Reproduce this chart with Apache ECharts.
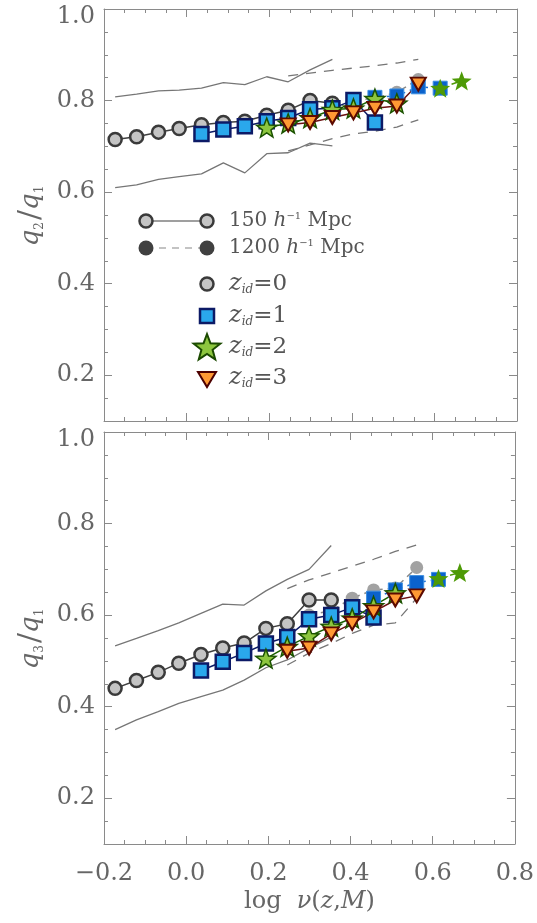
<!DOCTYPE html>
<html><head><meta charset="utf-8">
<script src="https://cdn.jsdelivr.net/npm/echarts@6/dist/echarts.min.js"></script>
<style>html,body{margin:0;padding:0;background:#fff}#c{width:537px;height:923px}</style>
</head><body><div id="c"></div>
<script>
const N = null;
// bins of log nu(z,M)
const logNu = [-0.173,-0.121,-0.068,-0.018,0.036,0.089,0.141,0.194,0.246,0.299,0.353,0.404,0.456,0.509,0.561,0.614,0.666];
// y tick labels
const yTicks = [0.2,0.4,0.6,0.8,1.0];

// ---- top panel q2/q1 ----
const q2_z0_150  = [0.715,0.721,0.731,0.739,0.747,0.752,0.755,0.768,0.779,0.800,0.794,N,N,N,N,N,N];
const q2_z0_1200 = [N,N,N,N,N,N,N,N,N,N,N,0.800,0.805,0.818,0.846,N,N];
const q2_z1_150  = [N,N,N,N,0.727,0.737,0.744,0.755,0.762,0.781,0.783,0.801,0.752,N,N,N,N];
const q2_z1_1200 = [N,N,N,N,N,N,N,N,N,N,N,N,0.807,0.810,0.830,0.827,N];
const q2_z2_150  = [N,N,N,N,N,N,N,0.741,0.750,0.762,0.780,0.783,0.804,0.794,N,N,N];
const q2_z2_1200 = [N,N,N,N,N,N,N,N,N,N,N,N,N,N,N,0.827,0.843];
const q2_z3_150  = [N,N,N,N,N,N,N,N,0.747,0.752,0.763,0.773,0.783,0.788,0.836,N,N];
const q2_hi150   = [0.808,0.814,0.821,0.823,0.827,0.839,0.835,0.852,0.841,0.867,0.890,N,N,N,N,N,N];
const q2_lo150   = [0.610,0.616,0.628,0.634,0.640,0.664,0.642,0.684,0.686,0.707,0.701,N,N,N,N,N,N];
const q2_hi1200  = [N,N,N,N,N,N,N,N,0.854,0.860,0.866,0.871,0.876,0.882,0.890,N,N];
const q2_lo1200  = [N,N,N,N,N,N,N,N,0.690,0.703,0.717,0.727,0.733,0.742,0.758,N,N];

// ---- bottom panel q3/q1 ----
const q3_z0_150  = [0.440,0.457,0.475,0.495,0.514,0.528,0.539,0.571,0.581,0.633,0.633,N,N,N,N,N,N];
const q3_z0_1200 = [N,N,N,N,N,N,N,N,N,0.600,0.610,0.637,0.655,0.659,0.704,N,N];
const q3_z1_150  = [N,N,N,N,0.479,0.498,0.517,0.538,0.552,0.591,0.600,0.617,0.595,N,N,N,N];
const q3_z1_1200 = [N,N,N,N,N,N,N,N,N,N,N,N,0.637,0.655,0.671,0.678,N];
const q3_z2_150  = [N,N,N,N,N,N,N,0.505,0.531,0.554,0.575,0.593,0.620,0.648,N,N,N];
const q3_z2_1200 = [N,N,N,N,N,N,N,N,N,N,N,N,N,N,N,0.680,0.693];
const q3_z3_150  = [N,N,N,N,N,N,N,N,0.521,0.528,0.559,0.582,0.607,0.633,0.642,N,N];
const q3_hi150   = [0.533,0.549,0.566,0.583,0.604,0.624,0.622,0.653,0.678,0.700,0.752,N,N,N,N,N,N];
const q3_lo150   = [0.350,0.371,0.389,0.407,0.422,0.436,0.458,0.485,0.502,0.528,0.552,N,N,N,N,N,N];
const q3_hi1200  = [N,N,N,N,N,N,N,N,0.658,0.677,0.692,0.707,0.722,0.739,0.753,N,N];
const q3_lo1200  = [N,N,N,N,N,N,N,N,0.491,0.517,0.538,0.560,0.578,0.583,0.637,N,N];

const FONT = "'DejaVu Serif', serif";
const TXT = '#666';
const AX = '#8a8a8a';

function pts(arr){ const o=[]; arr.forEach((v,i)=>{ if(v!=null) o.push([logNu[i], v]); }); return o; }
function starPts(cx,cy,R,ri){ const p=[]; for(let i=0;i<10;i++){ const r=i%2?R*ri:R; const a=-Math.PI/2+i*Math.PI/5; p.push([cx+r*Math.cos(a), cy+r*Math.sin(a)]); } return p; }
const starPath = 'path://M' + starPts(0,0,10,0.42).map(p=>p[0].toFixed(2)+','+p[1].toFixed(2)).join(' L') + ' Z';

const STY = {
  z0:  {symbol:'circle', size:13, fill:'#c4c4c4', border:'#3a3a3a', bw:2.5, line:'#404040'},
  z1:  {symbol:'rect', size:14, fill:'#2aa8ec', border:'#0c1a66', bw:2.5, line:'#0c1a66'},
  z2:  {symbol:starPath, size:20, fill:'#8dc63f', border:'#1b5200', bw:1.5, line:'#1b6000'},
  z3:  {symbol:'triangle', rotate:180, size:[15,13], fill:'#ff9933', border:'#5c0a00', bw:2, line:'#6b1010'},
  z0b: {symbol:'circle', size:13, fill:'#a2a2a2', border:'#a2a2a2', bw:0, line:'#8a8a8a'},
  z1b: {symbol:'rect', size:14, fill:'#0b62cc', border:'#3d8fe0', bw:1, line:'#1d6fd6'},
  z2b: {symbol:starPath, size:20, fill:'#4e9a06', border:'#4e9a06', bw:0, line:'#4e9a06'}
};

function markSeries(g, arr, s, dashed){
  return {
    type:'line', xAxisIndex:g*2, yAxisIndex:g*4, data:pts(arr),
    symbol:s.symbol, symbolSize:s.size, symbolRotate:s.rotate||0, symbolKeepAspect:true,
    showSymbol:true, silent:true,
    itemStyle:{color:s.fill, borderColor:s.border, borderWidth:s.bw, opacity:1},
    lineStyle:{color:s.line, width:1.5, type:dashed?[7,5]:'solid'}
  };
}
function envSeries(g, arr, dashed){
  return {
    type:'line', xAxisIndex:g*2, yAxisIndex:g*4, data:pts(arr),
    symbol:'none', silent:true,
    lineStyle:{color:'#767676', width:1.3, type:dashed?[10,8]:'solid'}
  };
}

function X(g, pos, labels){
  const a = {
    type:'value', gridIndex:g, position:pos, min:-0.2, max:0.8, interval:0.2,
    axisLine:{show:true, onZero:false, lineStyle:{color:AX, width:1}},
    axisTick:{show:true, inside:true, length:8, lineStyle:{color:AX}},
    minorTick:{show:true, splitNumber:4, length:4, lineStyle:{color:AX}},
    splitLine:{show:false}, minorSplitLine:{show:false},
    axisLabel:{show:labels, margin:18, color:TXT, fontSize:24, fontFamily:FONT,
      formatter:v=>{ if(Math.abs(v)<1e-9) v=0; return v.toFixed(1).replace('-','\u2212'); }}
  };
  if(labels){
    a.name = '{n|log  }{i|\u03bd}{n|(}{i|z}{n|,}{i|M}{n|)}';
    a.nameLocation='middle'; a.nameGap=46;
    a.nameTextStyle = {color:TXT, fontFamily:FONT, fontSize:24, rich:{
      n:{fontSize:24, fontFamily:FONT, color:TXT},
      i:{fontSize:24, fontFamily:FONT, color:TXT, fontStyle:'italic'}}};
  }
  return a;
}
function yLab(v){
  const k=v/0.2; if(Math.abs(k-Math.round(k))>1e-6) return '';
  const s=v.toFixed(1); return v>0.99 ? '{t|'+s+'}' : s;
}
function Y(g, pos, major, labels, sub){
  const a = {
    type:'value', gridIndex:g, position:pos, min:0.1, max:1.0, interval:0.05, offset:0,
    axisLine:{show:!major, onZero:false, lineStyle:{color:AX, width:1}},
    axisTick:{show:true, inside:true, length:major?8:4, lineStyle:{color:AX}},
    splitLine:{show:false},
    axisLabel:{show:labels, margin:9, color:TXT, fontSize:24, fontFamily:FONT, formatter:yLab,
      rich:{t:{padding:[16,0,0,0], fontSize:24, fontFamily:FONT, color:TXT}}}
  };
  if(major) a.axisTick.customValues = yTicks;
  if(labels){
    a.name = '{q|q}{s|'+sub+'}{sl|/}{q|q}{s|1}';
    a.nameLocation='middle'; a.nameRotate=90; a.nameGap=45;
    a.nameTextStyle = {color:TXT, fontFamily:FONT, fontSize:26, rich:{
      q:{fontSize:26, fontFamily:FONT, color:TXT, fontStyle:'italic'},
      s:{fontSize:12, fontFamily:FONT, color:TXT, verticalAlign:'bottom', padding:[0,2,0,0]},
      sl:{fontSize:30, fontFamily:FONT, color:TXT}}};
  }
  return a;
}

const series = [];
[[0,[q2_hi150,q2_lo150],[q2_hi1200,q2_lo1200],[q2_z0_1200,q2_z1_1200,q2_z2_1200],[q2_z0_150,q2_z1_150,q2_z2_150,q2_z3_150]],
 [1,[q3_hi150,q3_lo150],[q3_hi1200,q3_lo1200],[q3_z0_1200,q3_z1_1200,q3_z2_1200],[q3_z0_150,q3_z1_150,q3_z2_150,q3_z3_150]]]
.forEach(([g,e150,e1200,b,s])=>{
  e150.forEach(a=>series.push(envSeries(g,a,false)));
  e1200.forEach(a=>series.push(envSeries(g,a,true)));
  series.push(markSeries(g,b[0],STY.z0b,true));
  series.push(markSeries(g,b[1],STY.z1b,true));
  series.push(markSeries(g,b[2],STY.z2b,true));
  series.push(markSeries(g,s[0],STY.z0,false));
  series.push(markSeries(g,s[1],STY.z1,false));
  series.push(markSeries(g,s[2],STY.z2,false));
  series.push(markSeries(g,s[3],STY.z3,false));
});

// legend drawn as graphic
const LT = {fill:'#555', fontFamily:FONT};
const zRich = {
  z:{fontSize:24, fontFamily:FONT, fontStyle:'italic', fill:'#555'},
  d:{fontSize:12, fontFamily:FONT, fontStyle:'italic', fill:'#555', verticalAlign:'bottom'},
  n:{fontSize:23, fontFamily:FONT, fill:'#555'}
};
const hRich = {
  n:{fontSize:20, fontFamily:FONT, fill:'#555'},
  h:{fontSize:20, fontFamily:FONT, fontStyle:'italic', fill:'#555'},
  s:{fontSize:10, fontFamily:FONT, fill:'#555', verticalAlign:'top'}
};
const graphic = [
  {type:'line', shape:{x1:146,y1:221,x2:207,y2:221}, style:{stroke:'#404040', lineWidth:1.2}},
  {type:'circle', shape:{cx:146,cy:221,r:6.5}, style:{fill:'#c4c4c4', stroke:'#3a3a3a', lineWidth:2.5}},
  {type:'circle', shape:{cx:207,cy:221,r:6.5}, style:{fill:'#c4c4c4', stroke:'#3a3a3a', lineWidth:2.5}},
  {type:'text', x:229, y:221, style:{text:'{n|150 }{h|h}{s|\u22121}{n| Mpc}', rich:hRich, verticalAlign:'middle', align:'left', ...LT}},
  {type:'line', shape:{x1:146,y1:248,x2:207,y2:248}, style:{stroke:'#888', lineWidth:1.2, lineDash:[7,6]}},
  {type:'circle', shape:{cx:146,cy:248,r:7.5}, style:{fill:'#404040'}},
  {type:'circle', shape:{cx:207,cy:248,r:7.5}, style:{fill:'#404040'}},
  {type:'text', x:229, y:248, style:{text:'{n|1200 }{h|h}{s|\u22121}{n| Mpc}', rich:hRich, verticalAlign:'middle', align:'left', ...LT}},
  {type:'circle', shape:{cx:207,cy:284,r:6.5}, style:{fill:'#c4c4c4', stroke:'#3a3a3a', lineWidth:2.5}},
  {type:'rect', shape:{x:200,y:309,width:14,height:14}, style:{fill:'#2aa8ec', stroke:'#0c1a66', lineWidth:2.5}},
  {type:'polygon', shape:{points:starPts(207,348,14,0.42)}, style:{fill:'#8dc63f', stroke:'#1b4a00', lineWidth:2}},
  {type:'polygon', shape:{points:[[198,372],[216,372],[207,387]]}, style:{fill:'#ff9933', stroke:'#4d0000', lineWidth:2}},
  {type:'text', x:229, y:284, style:{text:'{z|z}{d|id}{n|=0}', rich:zRich, verticalAlign:'middle', align:'left', ...LT}},
  {type:'text', x:229, y:316, style:{text:'{z|z}{d|id}{n|=1}', rich:zRich, verticalAlign:'middle', align:'left', ...LT}},
  {type:'text', x:229, y:347, style:{text:'{z|z}{d|id}{n|=2}', rich:zRich, verticalAlign:'middle', align:'left', ...LT}},
  {type:'text', x:229, y:378, style:{text:'{z|z}{d|id}{n|=3}', rich:zRich, verticalAlign:'middle', align:'left', ...LT}}
];

const option = {
  animation:false,
  backgroundColor:'#fff',
  grid:[{left:104, top:9, width:413, height:412}, {left:104, top:432, width:413, height:412}],
  xAxis:[X(0,'bottom',false), X(0,'top',false), X(1,'bottom',true), X(1,'top',false)],
  yAxis:[Y(0,'left',false,true,'2'), Y(0,'left',true,false), Y(0,'right',false,false), Y(0,'right',true,false),
         Y(1,'left',false,true,'3'), Y(1,'left',true,false), Y(1,'right',false,false), Y(1,'right',true,false)],
  series:series,
  graphic:graphic
};
const chart = echarts.init(document.getElementById('c'), null, {renderer:'canvas'});
chart.setOption(option);
</script></body></html>
